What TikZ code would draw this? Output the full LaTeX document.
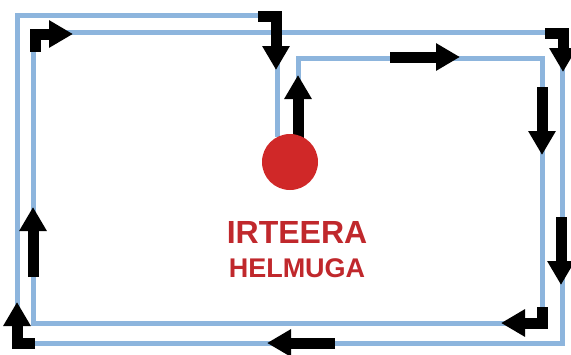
\documentclass[tikz,border=0pt]{standalone}
\usepackage{fontspec}
\setmainfont{Liberation Sans}
\usetikzlibrary{arrows.meta}
\definecolor{routeblue}{RGB}{141,181,221}
\definecolor{dotred}{RGB}{208,40,40}
\definecolor{textred}{RGB}{192,40,44}
\tikzstyle{route}=[draw=routeblue, line width=5pt, line join=miter]
\tikzstyle{pointer}=[draw=black, line width=11pt, line join=miter, -{Triangle[length=24pt, width=26pt]}]
\tikzstyle{dot}=[circle, fill=dotred, inner sep=0pt, minimum size=56pt]
\tikzstyle{bigtext}=[text=textred, anchor=base, inner sep=0pt]

\begin{document}
\begin{tikzpicture}[x=1pt, y=-1pt]
        \useasboundingbox (0, 0) rectangle (571, 354);
        % corners of the spiral
        \coordinate (P0) at (298, 137);
        \coordinate (P1) at (298, 58);
        \coordinate (P2) at (542, 58);
        \coordinate (P3) at (542, 323);
        \coordinate (P4) at (33, 323);
        \coordinate (P5) at (33, 32);
        \coordinate (P6) at (562, 32);
        \coordinate (P7) at (562, 343);
        \coordinate (P8) at (17, 343);
        \coordinate (P9) at (17, 15);
        \coordinate (P10) at (277, 15);
        \coordinate (P11) at (277, 137);
        \draw[route] (P0) -- (P1) -- (P2) -- (P3) -- (P4) -- (P5) -- (P6) -- (P7) -- (P8) -- (P9) -- (P10) -- (P11);
        % arrows
        \draw[pointer] (298, 140) -- (298, 75);
        \draw[pointer] (390, 57) -- (460, 57);
        \draw[pointer] (542, 87) -- (542, 155);
        \draw[pointer] (545, 33) -| (563, 72);
        \draw[pointer] (561, 217) -- (561, 285);
        \draw[pointer] (542, 307) |- (501, 323);
        \draw[pointer] (335, 343) -- (267, 343);
        \draw[pointer] (35, 343) -| (17, 302);
        \draw[pointer] (33, 277) -- (33, 207);
        \draw[pointer] (35, 52) |- (73, 34);
        \draw[pointer] (258, 16) -| (276, 70);
        \node[dot] (start) at (290, 162) {};
        \node[bigtext, font=\bfseries\fontsize{32}{32}\selectfont] (name1) at (297, 243) {IRTEERA};
        \node[bigtext, font=\bfseries\fontsize{27}{27}\selectfont] (name2) at (297, 277) {HELMUGA};
    \end{tikzpicture}
\end{document}
